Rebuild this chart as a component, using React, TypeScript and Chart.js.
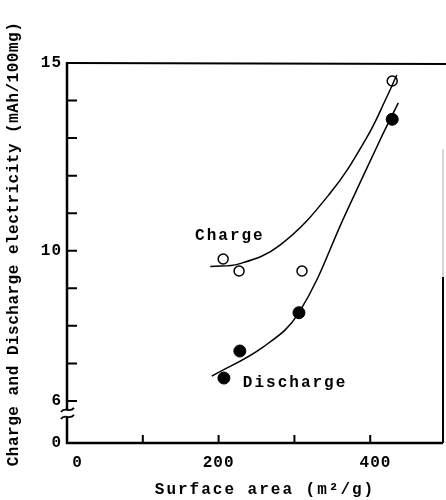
import React, { useEffect, useRef } from "react";
import { Chart, registerables } from "chart.js";

Chart.register(...registerables);

// Measured points (surface area m2/g, electricity mAh/100mg)
const chargeArea = [206, 227, 310, 429];
const chargeValue = [9.78, 9.46, 9.46, 14.52];
const dischargeArea = [207, 228, 306, 429];
const dischargeValue = [6.61, 7.33, 8.35, 13.5];

// Hand-drawn fitted curves
const chargeCurveArea = [189, 227, 281, 347, 395, 422, 435];
const chargeCurveValue = [9.58, 9.65, 10.15, 11.53, 13.0, 14.1, 14.68];
const dischargeCurveArea = [191, 259, 306, 369, 413, 437];
const dischargeCurveValue = [6.66, 7.44, 8.35, 11.05, 12.95, 13.94];

// Axes
const xTicks = [0, 100, 200, 300, 400];
const xTickLabels = ["  0", "", "200", "", " 400"];
const yTicks = [6, 7, 8, 9, 10, 11, 12, 13, 14, 15];
const yTickLabels = ["6", "", "", "", "10", "", "", "", "", "15"];
const yZeroPos = 4.88; // broken axis: where "0" sits
const xMax = 496;

// Curve name labels (data coords of text start)
const chargeLabel = { text: "Charge", x: 169, y: 10.39 };
const dischargeLabel = { text: "Discharge", x: 232, y: 6.48 };

const FONT = "'Liberation Mono', 'DejaVu Sans Mono', monospace";

const pts = (xs: number[], ys: number[]) => xs.map((x, i) => ({ x, y: ys[i] }));

const framePlugin = {
  id: "frame",
  beforeDraw(chart: any) {
    (chart.ctx as any).letterSpacing = "1px";
  },
  afterDraw(chart: any) {
    const ctx = chart.ctx as CanvasRenderingContext2D;
    const xs = chart.scales.x;
    const ys = chart.scales.y;
    const { left, right, top, bottom } = chart.chartArea;
    ctx.save();
    (ctx as any).letterSpacing = "0px";
    ctx.strokeStyle = "#000";
    ctx.lineCap = "butt";

    // left axis
    const y6 = ys.getPixelForValue(6);
    const b1 = y6 + 9;
    const b2 = y6 + 16;
    ctx.lineWidth = 2.5;
    ctx.beginPath();
    ctx.moveTo(left, top - 1);
    ctx.lineTo(left, b1);
    ctx.moveTo(left, b2);
    ctx.lineTo(left, bottom + 1);
    ctx.stroke();
    // bottom axis
    ctx.beginPath();
    ctx.moveTo(left - 1, bottom);
    ctx.lineTo(right, bottom);
    ctx.stroke();
    // top border
    ctx.lineWidth = 2.2;
    ctx.beginPath();
    ctx.moveTo(left, top);
    ctx.lineTo(chart.width, top + 1);
    ctx.stroke();
    // right border
    const rTop = ys.getPixelForValue(12.7);
    const rMid = ys.getPixelForValue(9.3);
    ctx.lineWidth = 1;
    ctx.strokeStyle = "#aaa";
    ctx.beginPath();
    ctx.moveTo(right, rTop);
    ctx.lineTo(right, rMid);
    ctx.stroke();
    ctx.strokeStyle = "#000";
    ctx.lineWidth = 2;
    ctx.beginPath();
    ctx.moveTo(right, rMid);
    ctx.lineTo(right, bottom);
    ctx.stroke();

    // inward ticks
    ctx.lineWidth = 2;
    ctx.beginPath();
    yTicks.slice(0, -1).forEach((v) => {
      const p = ys.getPixelForValue(v);
      ctx.moveTo(left, p);
      ctx.lineTo(left + 10, p);
    });
    xTicks.slice(1).forEach((v) => {
      const p = xs.getPixelForValue(v);
      ctx.moveTo(p, bottom);
      ctx.lineTo(p, bottom - 8);
    });
    ctx.stroke();

    // axis break squiggles
    ctx.lineWidth = 1.8;
    [b1, b2].forEach((yb) => {
      ctx.beginPath();
      ctx.moveTo(left - 6, yb + 2);
      ctx.bezierCurveTo(left - 2, yb - 4, left + 2, yb + 4, left + 7, yb - 2);
      ctx.stroke();
    });

    // texts
    ctx.fillStyle = "#000";
    ctx.font = `bold 16px ${FONT}`;
    ctx.textBaseline = "middle";
    ctx.textAlign = "left";
    (ctx as any).letterSpacing = "2px";
    [chargeLabel, dischargeLabel].forEach((l) => {
      ctx.fillText(l.text, xs.getPixelForValue(l.x), ys.getPixelForValue(l.y));
    });

    // x title
    ctx.textAlign = "center";
    ctx.fillText("Surface area (m²/g)", 265, 490);

    // y title
    ctx.save();
    (ctx as any).letterSpacing = "0.5px";
    ctx.translate(14, 244);
    ctx.rotate(-Math.PI / 2);
    ctx.fillText("Charge and Discharge electricity (mAh/100mg)", 0, 0);
    ctx.restore();

    ctx.restore();
  },
};

export default function App() {
  const ref = useRef<HTMLCanvasElement>(null);
  useEffect(() => {
    if (!ref.current) return;
    const chart = new Chart(ref.current, {
      type: "scatter",
      data: {
        datasets: [
          {
            label: "Charge curve",
            data: pts(chargeCurveArea, chargeCurveValue),
            showLine: true,
            borderColor: "#000",
            borderWidth: 1.5,
            pointRadius: 0,
            tension: 0.4,
          },
          {
            label: "Discharge curve",
            data: pts(dischargeCurveArea, dischargeCurveValue),
            showLine: true,
            borderColor: "#000",
            borderWidth: 1.5,
            pointRadius: 0,
            tension: 0.4,
          },
          {
            label: "Charge",
            data: pts(chargeArea, chargeValue),
            showLine: false,
            pointRadius: 5,
            pointBackgroundColor: "#fff",
            pointBorderColor: "#000",
            pointBorderWidth: 1.5,
          },
          {
            label: "Discharge",
            data: pts(dischargeArea, dischargeValue),
            showLine: false,
            pointRadius: 6,
            pointBackgroundColor: "#000",
            pointBorderColor: "#000",
            pointBorderWidth: 1,
          },
        ],
      } as any,
      options: {
        responsive: false,
        animation: false,
        layout: { autoPadding: false, padding: { top: 63, right: 3, left: 0, bottom: 0 } },
        plugins: { legend: { display: false }, tooltip: { enabled: false } },
        scales: {
          x: {
            type: "linear",
            min: 0,
            max: xMax,
            grid: { display: false, drawTicks: false },
            border: { display: false },
            afterBuildTicks: (s: any) => {
              s.ticks = xTicks.map((v) => ({ value: v }));
            },
            afterFit: (s: any) => {
              s.height = 57;
              s.paddingLeft = 0;
              s.paddingRight = 0;
            },
            ticks: {
              autoSkip: false,
              maxRotation: 0,
              padding: 10,
              color: "#000",
              font: { family: FONT, size: 16, weight: "bold" },
              callback: (v: any) => xTickLabels[xTicks.indexOf(Number(v))] ?? "",
            },
          },
          y: {
            type: "linear",
            min: yZeroPos,
            max: 15,
            grid: { display: false, drawTicks: false },
            border: { display: false },
            afterBuildTicks: (s: any) => {
              s.ticks = [{ value: yZeroPos }, ...yTicks.map((v) => ({ value: v }))];
            },
            afterFit: (s: any) => {
              s.width = 67;
              s.paddingTop = 0;
              s.paddingBottom = 0;
            },
            ticks: {
              autoSkip: false,
              padding: 5,
              color: "#000",
              font: { family: FONT, size: 16, weight: "bold" },
              callback: (v: any) => {
                const n = Number(v);
                if (Math.abs(n - yZeroPos) < 1e-6) return "0";
                return yTickLabels[yTicks.indexOf(n)] ?? "";
              },
            },
          },
        },
      },
      plugins: [framePlugin],
    });
    return () => chart.destroy();
  }, []);
  return (
    <div style={{ position: "absolute", left: 0, top: 0, width: 446, height: 500, background: "#fff" }}>
      <canvas ref={ref} width={446} height={500} />
    </div>
  );
}
